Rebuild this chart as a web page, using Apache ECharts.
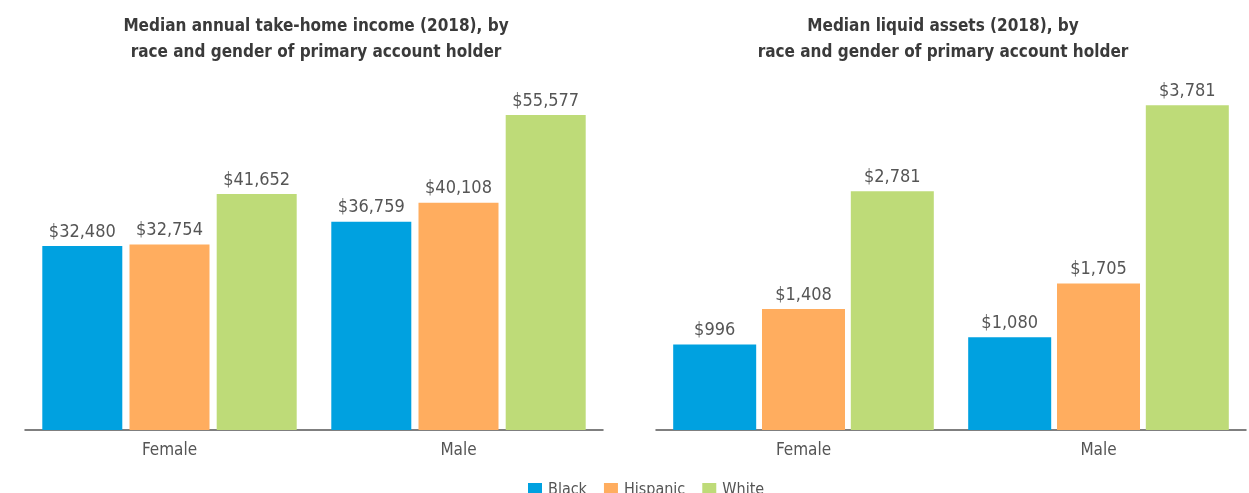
<!DOCTYPE html>
<html>
<head>
<meta charset="utf-8">
<script src="https://cdn.jsdelivr.net/npm/echarts@6/dist/echarts.min.js"></script>
<style>
  html, body { margin: 0; padding: 0; background: #fff; }
  #chart { width: 1249px; height: 493px; }
</style>
</head>
<body>
<div id="chart"></div>
<script>
// Categorias y datos
var generos = ['Female', 'Male'];
var razas = ['Black', 'Hispanic', 'White'];
var colores = ['#00a1e0', '#ffad5f', '#bedb78'];

// Ingreso anual (2018)
var ingresoBlack = [32480, 36759];
var ingresoHispanic = [32754, 40108];
var ingresoWhite = [41652, 55577];

// Activos liquidos (2018)
var activosBlack = [996, 1080];
var activosHispanic = [1408, 1705];
var activosWhite = [2781, 3781];

var fuente = '"Liberation Sans Narrow", "DejaVu Sans Condensed", sans-serif';

function formatoDolar(v) {
  return '$' + v.toLocaleString('en-US');
}

var chart = echarts.init(document.getElementById('chart'));

function serieBarra(nombre, datos, grid, color, ancho, gap) {
  return {
    name: nombre,
    type: 'bar',
    xAxisIndex: grid,
    yAxisIndex: grid,
    data: datos,
    barWidth: ancho,
    barGap: gap,
    itemStyle: { color: color },
    label: {
      show: true,
      position: 'top',
      distance: 5,
      color: '#555',
      fontFamily: fuente,
      fontSize: 18,
      formatter: function (p) { return formatoDolar(p.value); }
    }
  };
}

var estiloTitulo = { fontFamily: fuente, fontSize: 17, fontWeight: 'bold', color: '#3a3a3a', lineHeight: 26 };

var option = {
  animation: false,
  title: [
    {
      text: 'Median annual take-home income (2018), by\nrace and gender of primary account holder',
      left: 311, top: 9, textAlign: 'center',
      textStyle: estiloTitulo
    },
    {
      text: 'Median liquid assets (2018), by\nrace and gender of primary account holder',
      left: 938, top: 9, textAlign: 'center',
      textStyle: estiloTitulo
    }
  ],
  legend: {
    data: razas,
    bottom: -10,
    left: 523,
    itemWidth: 14,
    itemHeight: 14,
    itemGap: 17,
    icon: 'rect',
    textStyle: { fontFamily: fuente, fontSize: 16, color: '#555', padding: [0, 0, 0, 1] }
  },
  grid: [
    { left: 25, width: 578, top: 90, bottom: 63 },
    { left: 656, width: 590, top: 90, bottom: 63 }
  ],
  xAxis: [0, 1].map(function (i) {
    return {
      type: 'category',
      gridIndex: i,
      data: generos,
      axisLine: { lineStyle: { color: '#555', width: 1.5 } },
      axisTick: { show: false },
      axisLabel: { fontFamily: fuente, fontSize: 17, color: '#555', margin: 12 }
    };
  }),
  yAxis: [
    { type: 'value', gridIndex: 0, min: 0, max: 60000, show: false },
    { type: 'value', gridIndex: 1, min: 0, max: 3960, show: false }
  ],
  series: [
    serieBarra('Black', ingresoBlack, 0, colores[0], 80, '9%'),
    serieBarra('Hispanic', ingresoHispanic, 0, colores[1], 80, '9%'),
    serieBarra('White', ingresoWhite, 0, colores[2], 80, '9%'),
    serieBarra('Black', activosBlack, 1, colores[0], 83, '7%'),
    serieBarra('Hispanic', activosHispanic, 1, colores[1], 83, '7%'),
    serieBarra('White', activosWhite, 1, colores[2], 83, '7%')
  ]
};

chart.setOption(option);
</script>
</body>
</html>
